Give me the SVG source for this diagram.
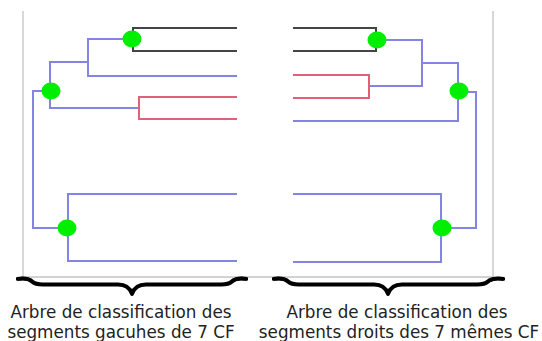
<svg xmlns="http://www.w3.org/2000/svg" width="542" height="341" viewBox="0 0 542 341">
<style>
.b{fill:none;stroke:#8484e6;stroke-width:2}
.r{fill:none;stroke:#e0607a;stroke-width:2}
.k{fill:none;stroke:#444;stroke-width:2}
.g{fill:none;stroke:#c4c4c4;stroke-width:1.3}
.n{fill:#00ee00}
.br{fill:none;stroke:#000;stroke-width:4;stroke-linejoin:round}
.be{fill:#000}
.t{font-family:"DejaVu Sans",sans-serif;font-size:16.8px;fill:#222;text-anchor:middle}
</style>
<g id="frame">
<path class="g" d="M23,11V277H493V11"/>
</g>
<g id="connectors">
<path class="k" d="M237,28H133V51H237"/>
<path class="b" d="M132,39H88V76H237"/>
<path class="b" d="M88,62H50V108H139"/>
<path class="r" d="M237,97H139V119H237"/>
<path class="b" d="M51,91H33V228H67"/>
<path class="b" d="M237,194H68V261H237"/>
<path class="k" d="M293,28H376V51H293"/>
<path class="b" d="M377,40H422V86H369"/>
<path class="r" d="M293,75H369V98H293"/>
<path class="b" d="M422,63H458V121H293"/>
<path class="b" d="M459,92H476V228H441"/>
<path class="b" d="M293,194H441V262H293"/>
</g>
<g id="node-l1"><ellipse class="n" cx="132" cy="39" rx="9.5" ry="8.5"/></g>
<g id="node-l2"><ellipse class="n" cx="51" cy="91" rx="9.5" ry="8.5"/></g>
<g id="node-l3"><ellipse class="n" cx="67" cy="228" rx="9.5" ry="8.5"/></g>
<g id="node-r1"><ellipse class="n" cx="377" cy="40" rx="9.5" ry="8.5"/></g>
<g id="node-r2"><ellipse class="n" cx="459" cy="91" rx="9.5" ry="8.5"/></g>
<g id="node-r3"><ellipse class="n" cx="442" cy="228" rx="9.5" ry="8.5"/></g>
<g id="braces">
<path class="br" d="M17,279C23,278 29,278.5 32,281.5Q35,284.5 43,284.5H118Q129,284.5 132,294Q135,284.5 146,284.5H221Q229,284.5 232,281.5C235,278.5 241,278 247,279"/>
<path class="be" d="M16,277.5C22,276 30,277 33,280L30,282C27,280 21,280 16,280.5Z"/>
<path class="be" d="M248,277.5C242,276 234,277 231,280L234,282C237,280 243,280 248,280.5Z"/>
<path class="br" d="M273,279C279,278 285,278.5 288,281.5Q291,284.5 299,284.5H374Q385,284.5 388,294Q391,284.5 402,284.5H477Q485,284.5 488,281.5C491,278.5 497,278 504,279"/>
<path class="be" d="M272,277.5C278,276 286,277 289,280L286,282C283,280 277,280 272,280.5Z"/>
<path class="be" d="M505,277.5C499,276 491,277 488,280L491,282C494,280 500,280 505,280.5Z"/>
</g>
<g id="labels">
<text class="t" x="121" y="317.5">Arbre de classification des</text>
<text class="t" x="121" y="337.5">segments gacuhes de 7 CF</text>
<text class="t" x="397" y="317.5">Arbre de classification des</text>
<text class="t" x="399" y="337.5">segments droits des 7 mêmes CF</text>
</g>
</svg>
